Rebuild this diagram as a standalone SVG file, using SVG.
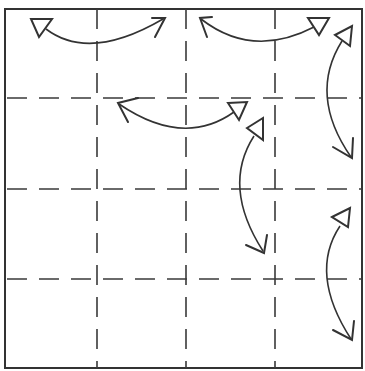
<svg xmlns="http://www.w3.org/2000/svg" width="365" height="371" viewBox="0 0 365 371">
<style>
.grid{stroke:#3a3a3a;stroke-width:1.6;stroke-dasharray:20 12;fill:none}
.arc{stroke:#333;stroke-width:1.6;fill:none}
.tri{stroke:#333;stroke-width:2;fill:#fff;stroke-linejoin:miter}
.chev{stroke:#333;stroke-width:2;fill:none;stroke-linecap:round}
</style>
<rect width="365" height="371" fill="#fff"/>
<rect x="5" y="9" width="357" height="359" fill="none" stroke="#333" stroke-width="2"/>
<g id="grid">
<line class="grid" x1="97" y1="9" x2="97" y2="368"/>
<line class="grid" x1="186" y1="9" x2="186" y2="368"/>
<line class="grid" x1="275" y1="9" x2="275" y2="368"/>
<line class="grid" x1="7" y1="98" x2="362" y2="98"/>
<line class="grid" x1="7" y1="189" x2="362" y2="189"/>
<line class="grid" x1="7" y1="279" x2="362" y2="279"/>
</g>
<g id="connectors">
<path class="arc" d="M46,29 Q89.5,62 163,19"/>
<path class="arc" d="M201,19 Q252.5,59 314,27"/>
<path class="arc" d="M342,41 Q308,95 351,157"/>
<path class="arc" d="M119,104 Q183.5,148 234,112"/>
<path class="arc" d="M254,136 Q221.5,186.5 263,251"/>
<path class="arc" d="M340,226 Q308.5,273.5 351,339"/>
</g>
<g id="heads">
<polygon class="tri" points="31,19 52,19 39,37"/>
<polyline class="chev" points="152,18 165,18 155,37"/>
<polyline class="chev" points="212,17 200,18 207,37"/>
<polygon class="tri" points="308,18 329,18 319,35"/>
<polygon class="tri" points="335,35 352,26 350,46"/>
<polyline class="chev" points="353,138 352,158 333,147"/>
<polyline class="chev" points="138,98 118,103 128,122"/>
<polygon class="tri" points="228,103 247,102 239,120"/>
<polygon class="tri" points="247,128 263,118 263,140"/>
<polyline class="chev" points="267,235 264,253 246,245"/>
<polygon class="tri" points="332,217 350,208 348,227"/>
<polyline class="chev" points="354,321 352,340 333,330"/>
</g>
</svg>
